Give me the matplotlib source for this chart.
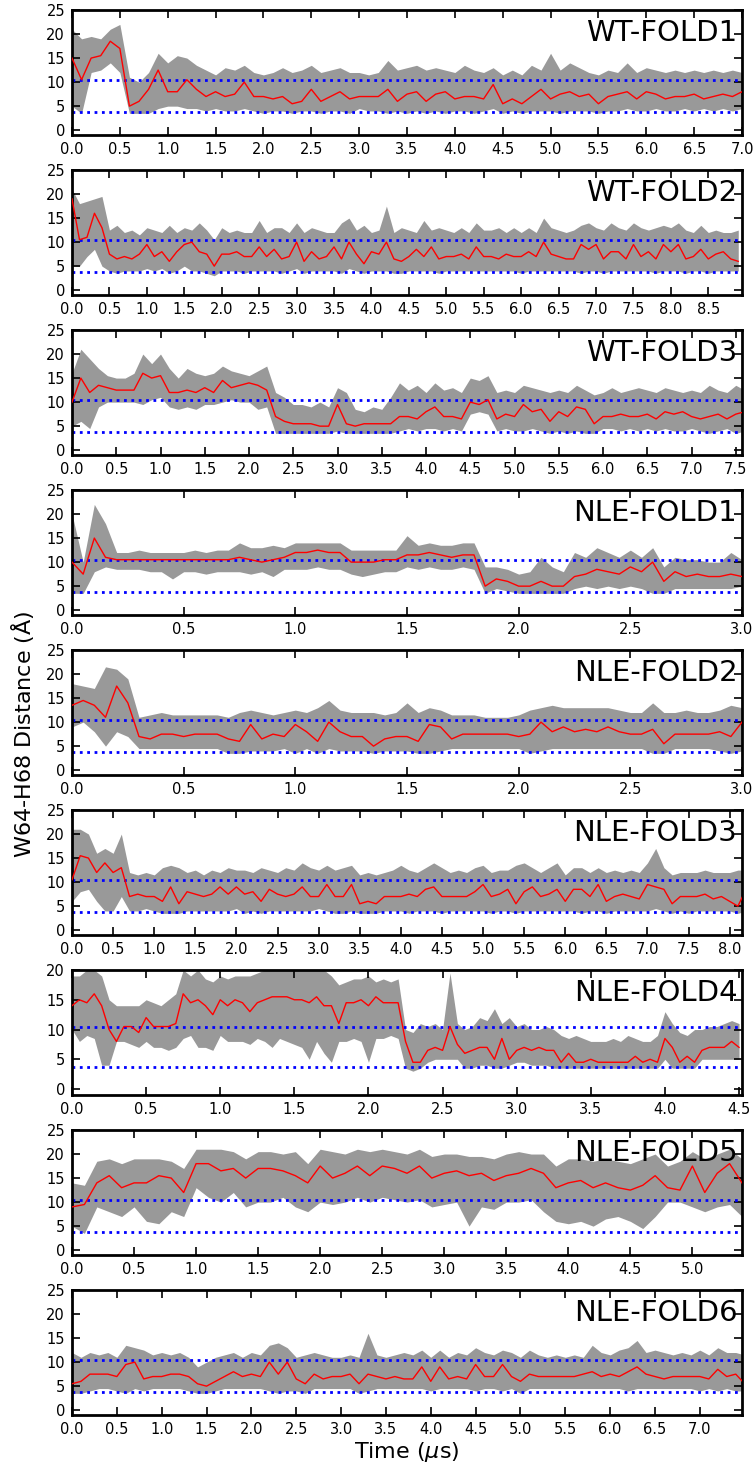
import numpy as np
import matplotlib.pyplot as plt

# run labels, time step of the sampled values (us) and x-axis end
labels = ['WT-FOLD1', 'WT-FOLD2', 'WT-FOLD3', 'NLE-FOLD1', 'NLE-FOLD2',
          'NLE-FOLD3', 'NLE-FOLD4', 'NLE-FOLD5', 'NLE-FOLD6']
steps = [0.1, 0.1, 0.1, 0.05, 0.05, 0.1, 0.05, 0.1, 0.1]
xmax = [7.0, 8.95, 7.57, 3.0, 3.0, 8.15, 4.52, 5.4, 7.47]
ytop = [25, 25, 25, 25, 25, 25, 20, 25, 25]

# reference distances (blue dotted)
ref_hi = 10.5
ref_lo = 3.7

# running average (red) and raw trace envelope (gray)
wt1_avg = [15, 10.5, 15, 15.5, 18.5, 17, 5, 6, 8.5, 12.5, 8, 8, 10.5, 8.5, 7, 8, 7, 7.5, 10, 7,
           7, 6.5, 7, 5.5, 6, 8.5, 6, 7, 8, 6.5, 7, 7, 7, 8.5, 6, 7.5, 8, 6, 7.5, 8,
           6.5, 7, 7, 6.5, 9.5, 5.5, 6.5, 5.5, 7, 8.5, 6.5, 7.5, 8, 7, 7.5, 5.5, 7, 7.5, 8, 6.5,
           8, 7.5, 6.5, 7, 7, 7.5, 6.5, 7, 7.5, 7, 8]
wt1_hi = [21, 19, 19.5, 19, 21, 22, 11, 10, 12, 16, 14, 15.5, 15, 13.5, 12.5, 11.5, 13, 12.5, 13.5, 12,
          11.5, 12, 13, 12, 12.5, 13.5, 12, 12.5, 13, 12, 12, 11.5, 12, 14.5, 12.5, 13, 13.5, 12.5, 13, 12.5,
          12, 13.5, 12.5, 12, 13, 11.5, 12.5, 11.5, 13.5, 12.5, 16, 12.5, 14, 13, 12, 11.5, 12.5, 12, 14, 12,
          13, 12.5, 12, 12.5, 12, 12.5, 12, 12.5, 12, 12.5, 12]
wt1_lo = [5, 3.5, 12, 12.5, 14, 12, 3.5, 3.5, 3.5, 4.5, 5, 5, 4.5, 4.5, 4, 4.5, 4, 4, 4.5, 4,
          3.5, 4, 4, 3.5, 4, 4, 3.5, 4, 4, 3.5, 4.5, 4, 4, 3.5, 4, 3.5, 4, 3.5, 4, 3.5,
          4, 4, 3.5, 4, 4.5, 3.5, 4, 3.5, 4, 4, 4, 3.5, 4, 4, 4, 3.5, 4, 4, 4.5, 4,
          4, 4.5, 4, 4, 4.5, 4, 4.5, 4, 4.5, 4, 4.5]

wt2_avg = [19, 10.5, 11, 16, 13, 7.5, 6.5, 7, 6.5, 7.5, 9.5, 7, 8, 6, 8, 9.5, 10, 8, 7.5, 5,
           7.5, 7.5, 8, 7, 7, 9, 7, 8.5, 6.5, 7, 10, 6, 8, 6.5, 7, 9, 6.5, 10, 7.5, 5.5,
           8, 7.5, 10, 6.5, 6, 7, 8.5, 7, 9, 6.5, 7, 7, 7.5, 6.5, 9, 7, 7, 6.5, 7.5, 7,
           7, 8, 7, 10, 7.5, 7, 6.5, 6.5, 9.5, 8.5, 9.5, 6.5, 8, 8, 6.5, 9.5, 7, 8, 6.5, 9.5,
           8, 9.5, 6.5, 7, 8.5, 6.5, 7.5, 8, 6.5, 6]
wt2_hi = [21, 18, 18.5, 19, 19.5, 12.5, 13.5, 12, 12.5, 11.5, 13, 12.5, 12, 13.5, 12, 13, 12.5, 14, 12.5, 10.5,
          13, 12, 12.5, 12, 12, 14.5, 12, 13, 13, 12, 14, 12, 13, 12.5, 12, 12, 14, 15, 12.5, 13.5,
          12, 12.5, 17.5, 12, 13, 12.5, 12, 14.5, 12.5, 13, 12.5, 12, 13, 12, 14, 12.5, 12.5, 13, 12, 13,
          12, 13, 12, 15, 13, 12.5, 12, 12.5, 13.5, 14, 13, 12.5, 14, 13, 12.5, 14, 13, 12.5, 13, 13.5,
          13, 14, 12.5, 12, 13.5, 12, 12.5, 12, 12, 12.5]
wt2_lo = [5, 5, 7, 8.5, 5, 4, 3.5, 4, 4, 4, 4.5, 4, 4.5, 3.5, 4, 5, 4, 4, 3.5, 3,
          4, 4, 4, 3.5, 4, 4, 4, 4, 3.5, 4, 4.5, 3.5, 4, 4, 4, 4, 3.5, 4.5, 4, 3.5,
          4, 4, 4, 3.5, 3.5, 4, 4, 4, 4, 3.5, 4, 4, 4, 4, 4, 4, 4, 4, 4, 4,
          3.5, 4, 4, 4, 4, 4, 4, 4, 3.5, 4, 4, 3.5, 4, 4, 4, 4, 4, 4, 3.5, 4,
          4, 4, 3.5, 4, 4, 3.5, 4, 4, 4, 4]

wt3_avg = [10, 15, 12, 13.5, 13, 12.5, 12.5, 12.5, 16, 15, 15.5, 12, 12, 12.5, 12, 13, 12, 14.5, 13, 13.5,
           14, 13.5, 12.5, 7, 6, 5.5, 5.5, 5.5, 5, 5, 9.5, 5.5, 5, 5.5, 5.5, 5.5, 5.5, 7, 7, 6.5,
           8, 9, 7, 7, 6.5, 10, 9.5, 10.5, 6.5, 7.5, 7, 9.5, 8, 8.5, 6, 8, 7, 9, 8.5, 5.5,
           7, 7, 7.5, 7, 7, 7.5, 6.5, 8, 7.5, 8, 7, 6.5, 7, 7.5, 6.5, 7.5, 8]
wt3_hi = [16, 21, 19, 17, 15.5, 15, 15, 16, 20, 18, 20, 17, 15, 17, 16, 15.5, 16, 17.5, 16.5, 16,
          15.5, 16.5, 17.5, 12, 11, 9.5, 9.5, 9, 10, 9, 13, 12, 8.5, 8, 9, 8.5, 11, 14, 12.5, 13.5,
          12, 14, 12.5, 13, 12, 15, 14.5, 15.5, 12, 12.5, 12, 13.5, 13, 12.5, 12, 12.5, 12, 13.5, 12.5, 11.5,
          12, 13, 12, 12.5, 13, 12.5, 12, 13, 12.5, 12, 12.5, 12, 13.5, 12.5, 12, 13.5, 12.5]
wt3_lo = [5, 6, 4.5, 9, 10, 10, 10, 10, 9.5, 10.5, 11, 9, 8.5, 9, 8.5, 9.5, 9.5, 10, 10.5, 10,
          10, 8.5, 9, 3.5, 3.5, 3.5, 3.5, 3.5, 3.5, 3.5, 4, 3.5, 3.5, 3.5, 3.5, 3.5, 3.5, 4, 4.5, 4,
          4.5, 4.5, 4, 4.5, 4, 7.5, 8, 7.5, 4, 4.5, 4, 4, 4.5, 4, 3.5, 4, 3.5, 4, 3.5, 3.5,
          4.5, 4.5, 4, 4.5, 4, 4.5, 4, 4.5, 4, 4, 4.5, 4, 3.5, 4, 4.5, 3.5, 4]

nle1_avg = [10, 7.5, 15, 11, 10.5, 10.5, 10.5, 10.5, 10.5, 10.5, 10.5, 10.5, 10.5, 10.5, 10.5, 11, 10.5, 10, 10.5, 11,
            12, 12, 12.5, 12, 12, 10, 10, 10, 10.5, 10.5, 11.5, 11.5, 12, 11.5, 11, 11.5, 11.5, 5, 6.5, 6,
            5, 5, 6, 5, 5, 7, 7.5, 8.5, 8, 7.5, 9, 8, 10, 6, 8, 7, 7.5, 7, 7, 7.5, 7]
nle1_hi = [20, 10, 22, 18, 12, 12, 12.5, 12, 12, 12, 12, 12.5, 12, 12.5, 12.5, 14, 13, 13, 13.5, 13,
           14, 14, 14, 14, 14, 12.5, 12.5, 12.5, 12.5, 12.5, 15.5, 13.5, 14, 13.5, 13.5, 14, 14, 9, 9, 8.5,
           7.5, 8, 11, 9, 8, 12, 11, 13, 12, 11, 12.5, 11, 13, 9, 11, 10.5, 10.5, 10, 10, 12, 10.5]
nle1_lo = [3.5, 3.5, 8, 9, 8.5, 8.5, 8.5, 8, 8, 6.5, 8, 8, 7.5, 8, 8, 8, 7.5, 8, 7, 8.5,
           8.5, 8.5, 9, 8.5, 8.5, 7.5, 7, 7.5, 8, 8, 9, 8.5, 9, 8.5, 8.5, 9, 8.5, 3.5, 4.5, 4,
           3.5, 3.5, 3.5, 3.5, 3.5, 4.5, 5, 4.5, 5, 4.5, 5, 4.5, 3.5, 3.5, 4.5, 4.5, 4.5, 4.5, 4.5, 4.5, 5]

nle2_avg = [13.5, 14.5, 13.5, 11, 17.5, 14, 7, 6.5, 7.5, 7.5, 7, 7.5, 7.5, 7.5, 6.5, 6, 9.5, 6.5, 7.5, 7,
            9.5, 8, 6, 10, 8, 7, 7, 5, 6.5, 7, 7, 6, 9.5, 9, 6.5, 7.5, 7.5, 7.5, 7.5, 7.5,
            7, 7.5, 10, 8, 9, 8, 8.5, 8, 9, 8, 7.5, 7.5, 8.5, 5.5, 7.5, 7.5, 7.5, 7.5, 8, 7, 10]
nle2_hi = [18, 17.5, 17, 21.5, 21, 19, 11, 11.5, 12, 11.5, 11.5, 11.5, 11.5, 11.5, 11, 12, 12.5, 12, 11.5, 12,
           12.5, 12, 13, 14.5, 12.5, 12, 12, 12, 11.5, 12, 14, 12, 13, 12.5, 11.5, 11.5, 11.5, 11, 11, 11,
           11.5, 12.5, 13, 13.5, 13, 13, 13, 13, 13, 12.5, 12, 12, 14, 12, 12, 12.5, 12, 12, 12.5, 13.5, 13]
nle2_lo = [9, 10, 8, 5, 8, 7, 4.5, 4.5, 4.5, 4.5, 4.5, 4.5, 4.5, 4.5, 3.5, 3.5, 4, 4, 4, 4.5,
           3.5, 4.5, 3.5, 4.5, 4, 4, 4, 3.5, 4, 4, 4, 3.5, 3.5, 4, 4.5, 4.5, 4.5, 4.5, 4.5, 4.5,
           4.5, 3.5, 4, 4.5, 4.5, 4.5, 4.5, 4.5, 4.5, 4.5, 4.5, 4.5, 3.5, 3.5, 4.5, 4.5, 4.5, 4.5, 4, 3.5, 4]

nle3_avg = [10.5, 15.5, 15, 12, 14, 12, 13, 7, 7.5, 7, 7, 6, 9, 5.5, 8, 7.5, 7, 7.5, 9, 7.5,
            9, 7.5, 8, 6, 8.5, 7.5, 7, 7.5, 9, 7, 7, 9.5, 7, 7, 9.5, 5.5, 6, 5.5, 7, 7,
            7, 7.5, 7, 8.5, 9, 7, 7, 7, 7, 8, 9.5, 7, 7.5, 8.5, 5.5, 8, 9, 7, 7.5, 8.5,
            6, 8.5, 8.5, 7, 9.5, 6, 7, 7.5, 7, 6.5, 9.5, 9, 8.5, 5.5, 7, 7, 7, 7.5, 6.5, 7,
            6, 5, 8.5]
nle3_hi = [21, 21, 20, 16, 17, 16, 20, 12, 11.5, 12, 11.5, 13, 13.5, 13, 12, 12.5, 11.5, 12.5, 12, 13,
           12.5, 12.5, 12, 13, 12.5, 12, 13, 12.5, 14, 13, 12.5, 13.5, 12.5, 13, 13.5, 11.5, 12, 11.5, 12, 12.5,
           13.5, 12.5, 12, 13, 14, 13, 12, 12.5, 12, 13, 13.5, 12, 12.5, 12.5, 13.5, 14, 13, 12, 13, 14,
           11.5, 13, 13, 12, 13, 12, 12.5, 12, 12.5, 12, 14, 17, 13, 11.5, 12, 12, 12, 12.5, 12, 12,
           12, 12.5, 12.5]
nle3_lo = [6, 8, 8.5, 6, 4, 4, 7, 4, 4, 4.5, 4, 3.5, 3.5, 3.5, 4, 4, 4, 4, 4, 4,
           4.5, 3.5, 4, 3.5, 4, 4, 4, 4, 4, 4, 4.5, 4, 3.5, 3.5, 4, 3.5, 3.5, 3.5, 4, 4,
           4, 3.5, 4, 4, 4, 3.5, 4, 4, 4, 4, 4, 3.5, 4, 4, 3.5, 4, 4, 4, 4, 4,
           4, 4, 3.5, 4, 4, 3.5, 4, 4, 4, 4, 4, 4.5, 4, 3.5, 4, 3.5, 4, 4, 4, 4,
           4, 3.5, 4]

nle4_avg = [14, 15, 14.5, 16, 14, 10, 8, 10.5, 10.5, 9.5, 12, 10.5, 10.5, 10.5, 11, 16, 14.5, 15, 14, 12.5,
            15, 14, 15, 14.5, 13, 14.5, 15, 15.5, 15.5, 15.5, 15, 15, 14.5, 15.5, 14, 14, 11, 14.5, 14.5, 15,
            14, 15.5, 14.5, 14.5, 14.5, 8, 4.5, 4.5, 6.5, 7, 6.5, 10.5, 7.5, 6, 6.5, 7, 7, 5, 8.5, 5,
            6.5, 7, 6.5, 7, 6.5, 6.5, 4.5, 6, 4.5, 4.5, 5, 4.5, 4.5, 4.5, 4.5, 4.5, 5.5, 4.5, 5, 4.5,
            8.5, 7, 4.5, 5.5, 4.5, 6.5, 7, 7, 7, 8, 7]
nle4_hi = [19, 19, 20, 20, 19, 15, 14, 14, 14, 14, 15, 14.5, 14, 15, 16, 20, 19, 20, 18.5, 18,
           19, 18.5, 19, 19, 19, 19.5, 20, 20, 20, 20, 20, 20, 20, 20, 20, 19, 17.5, 18, 18.5, 18.5,
           19, 18, 18.5, 18, 18.5, 10, 9.5, 11, 10.5, 11, 10, 19.5, 11, 10, 10.5, 12, 11.5, 13.5, 11, 12,
           10.5, 11, 10, 10, 10.5, 10, 9, 8.5, 9, 8.5, 8, 8, 8, 8.5, 8, 9, 8.5, 8, 8, 9,
           13, 11, 9.5, 9, 10, 10, 10.5, 10.5, 11, 11.5, 11]
nle4_lo = [10, 8, 9, 8.5, 4, 4, 8, 8, 7.5, 7, 8, 7, 7, 6.5, 7, 8.5, 9, 7, 7, 6.5,
           9, 8, 8, 8, 7.5, 8.5, 8, 7, 8.5, 8, 7.5, 7, 5, 8, 6, 4.5, 8, 8, 8.5, 8,
           4.5, 8.5, 8.5, 9, 8.5, 3.5, 3, 3.5, 4.5, 5, 5, 5, 5, 3.5, 3.5, 4, 4, 3.5, 3.5, 4,
           4.5, 4.5, 4, 4, 4, 3.5, 3.5, 3.5, 3.5, 3.5, 3.5, 3.5, 3.5, 3.5, 3.5, 3.5, 3.5, 3.5, 3.5, 3.5,
           5, 3.5, 3.5, 3.5, 3.5, 5, 5, 5, 5, 5, 5]

nle5_avg = [9, 9.5, 14, 15.5, 13, 14, 14, 15.5, 15, 12, 18, 18, 16.5, 17, 15, 17, 17, 16.5, 15.5, 14,
            17.5, 15, 16, 17.5, 15.5, 17.5, 17, 16, 17.5, 15, 16, 16.5, 15.5, 16, 14.5, 15.5, 16, 17, 16, 13,
            14, 14.5, 13, 14, 13, 12.5, 13.5, 15.5, 13, 12.5, 17.5, 12, 16, 18, 14]
nle5_hi = [14, 13.5, 18.5, 19, 18, 19, 19, 19, 18.5, 17, 21, 21, 21, 20.5, 19, 20.5, 20.5, 20, 20.5, 18,
           21, 20.5, 20, 21, 20.5, 21, 20.5, 20, 21, 19.5, 20, 20, 19.5, 19.5, 19, 20, 20.5, 20, 20, 17.5,
           19, 19, 18.5, 19, 18.5, 18, 19, 20, 17.5, 18.5, 20.5, 19, 20, 21, 19]
nle5_lo = [5, 3.5, 9, 8, 7, 9, 6, 5.5, 8, 7, 13, 11, 10, 12, 9, 10, 10, 11, 9, 8,
           10, 9.5, 10, 11, 10, 11, 10.5, 10, 10.5, 9, 9.5, 10, 5, 9, 8.5, 10, 10, 10.5, 8, 6,
           5.5, 6, 5, 6.5, 7, 6, 4.5, 7, 10, 10, 9, 8, 9, 9.5, 7]

nle6_avg = [5.5, 6, 7.5, 7.5, 7.5, 7, 9.5, 10, 6.5, 7, 7, 7.5, 7.5, 7, 5.5, 5, 6, 7, 8, 7,
            7.5, 7, 10, 7.5, 10, 6.5, 5.5, 7.5, 6.5, 7, 7, 7.5, 5.5, 7.5, 7, 6.5, 7, 6.5, 6.5, 9,
            6, 9, 6.5, 7, 6.5, 9.5, 7, 7, 9.5, 7, 6, 7.5, 7, 7, 7, 7, 7, 7.5, 8, 7,
            7.5, 7, 8, 9, 7.5, 7, 6.5, 7, 7, 7, 7, 6.5, 8.5, 7, 7.5, 5.5]
nle6_hi = [12, 11, 12, 11.5, 12, 11, 13.5, 13, 12.5, 11.5, 12, 11.5, 12, 11, 9, 10, 11, 11.5, 12, 11,
           12, 11.5, 13.5, 14, 13, 11, 11.5, 12, 11.5, 11, 11, 11.5, 11, 16, 11.5, 11, 11.5, 12, 11.5, 12.5,
           11, 12.5, 11, 12, 11.5, 13, 12, 11.5, 12.5, 12, 11, 12.5, 11.5, 11, 11.5, 11, 11.5, 11, 13.5, 12,
           11.5, 12.5, 13, 14.5, 12, 12.5, 12, 11.5, 12, 11.5, 12.5, 11.5, 13, 12, 12, 11.5]
nle6_lo = [3.5, 3.5, 4, 4.5, 4.5, 4, 3.5, 4.5, 4, 4.5, 4.5, 4.5, 4.5, 4, 3.5, 3.5, 4, 4.5, 4.5, 4.5,
           4.5, 4.5, 4, 3.5, 4, 4, 3.5, 4.5, 4.5, 4.5, 4.5, 4.5, 3.5, 4, 4.5, 4.5, 4.5, 4.5, 4.5, 4.5,
           4, 4.5, 4.5, 4.5, 4.5, 4, 4.5, 4.5, 4, 4.5, 3.5, 4.5, 4.5, 4.5, 4.5, 4.5, 4.5, 4.5, 4.5, 4.5,
           4.5, 4.5, 4, 4.5, 4.5, 4.5, 4.5, 4.5, 4.5, 4.5, 4, 4.5, 4, 4.5, 4, 4]

avgs = [wt1_avg, wt2_avg, wt3_avg, nle1_avg, nle2_avg, nle3_avg, nle4_avg, nle5_avg, nle6_avg]
his = [wt1_hi, wt2_hi, wt3_hi, nle1_hi, nle2_hi, nle3_hi, nle4_hi, nle5_hi, nle6_hi]
los = [wt1_lo, wt2_lo, wt3_lo, nle1_lo, nle2_lo, nle3_lo, nle4_lo, nle5_lo, nle6_lo]

plt.rcParams['font.family'] = 'DejaVu Sans'
fig = plt.figure(figsize=(7.54, 14.68), dpi=100)

W, H = 754.0, 1468.0
for i in range(9):
    top = 10 + 160 * i
    ax = fig.add_axes([72 / W, 1 - (top + 125) / H, 670 / W, 125 / H])
    t = np.arange(len(avgs[i])) * steps[i]
    ax.fill_between(t, los[i], his[i], color='#999999', lw=0, zorder=1)
    ax.axhline(ref_hi, color='blue', ls=':', lw=2, zorder=2)
    ax.axhline(ref_lo, color='blue', ls=':', lw=2, zorder=2)
    ax.plot(t, avgs[i], color='red', lw=1, zorder=3)

    ax.set_xlim(0, xmax[i])
    ax.set_ylim(-1, ytop[i])
    ax.set_xticks(np.arange(0, xmax[i] + 0.01, 0.5))
    ax.set_yticks(np.arange(0, ytop[i] + 1, 5))
    ax.tick_params(direction='in', top=True, right=True, length=6, width=1.2,
                   labelsize=10.5, pad=5)
    for s in ax.spines.values():
        s.set_linewidth(2)
    ax.text(0.993, 0.93, labels[i], transform=ax.transAxes, ha='right', va='top',
            fontsize=21, zorder=5)

fig.text(0.03, 0.5, r'W64-H68 Distance ($\mathrm{\AA}$)', rotation=90, ha='center',
         va='center', fontsize=16)
fig.text(0.54, 4 / H, r'Time ($\mu$s)', ha='center', va='bottom', fontsize=16)

fig.savefig('out.png', dpi=100)
